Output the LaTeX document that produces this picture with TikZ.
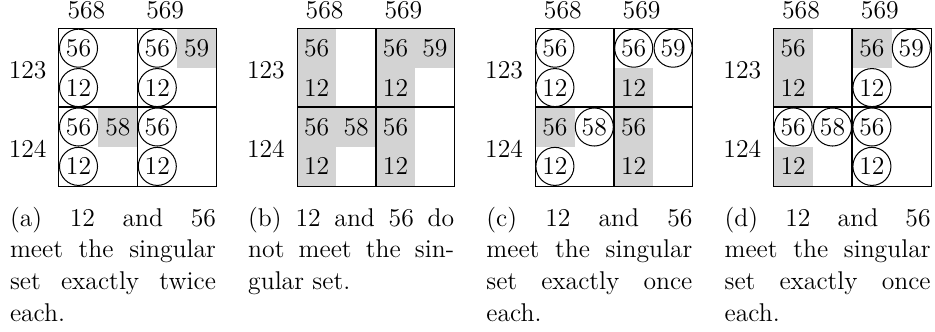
\documentclass[tikz,border=0pt]{standalone}
\definecolor{shadegray}{RGB}{211,211,211}
\tikzset{
  lab/.style={anchor=base, inner sep=0pt},
  num/.style={inner sep=0pt},
  ring/.style={circle, draw, line width=0.45pt, inner sep=0pt, minimum size=16.9pt},
  shadebox/.style={fill=shadegray, draw=none},
  outerbox/.style={draw, line width=0.45pt},
  innerline/.style={line width=0.8pt},
  capnode/.style={anchor=base west, inner sep=0pt}
}
\newcommand{\capbox}[1]{\parbox[t]{91.5pt}{\fontsize{11.4}{14.04}\selectfont\setlength{\baselineskip}{14.04pt}#1}}
\newcommand{\jline}[1]{\makebox[\linewidth][s]{#1}}
\begin{document}
\begin{tikzpicture}[x=0.4442pt, y=-0.4442pt, font=\fontsize{11.4}{14.04}\selectfont]
\useasboundingbox (0,0) rectangle (935,331);

% ---------- panel (a) ----------
\begin{scope}[xshift=26.12pt, yshift=-12.66pt, x=17.5pt, y=-17.5pt]
  \fill[shadebox] (3,0) rectangle (4,1);
  \fill[shadebox] (1,2) rectangle (2,3);
  \draw[outerbox] (0,0) rectangle (4,4);
  \draw[innerline] (2,0) -- (2,4) (0,2) -- (4,2);
  \node[lab] (a568) at (0.7,-0.254) {568};
  \node[lab] (a569) at (2.7,-0.254) {569};
  \node[lab] (a123) at (-0.79,1.265) {123};
  \node[lab] (a124) at (-0.79,3.265) {124};
  \node[ring] (aA56) at (0.5,0.5) {56};
  \node[ring] (aA12) at (0.5,1.5) {12};
  \node[ring] (aB56) at (2.5,0.5) {56};
  \node[num]  (aB59) at (3.5,0.5) {59};
  \node[ring] (aB12) at (2.5,1.5) {12};
  \node[ring] (aC56) at (0.5,2.5) {56};
  \node[num]  (aC58) at (1.5,2.5) {58};
  \node[ring] (aC12) at (0.5,3.5) {12};
  \node[ring] (aD56) at (2.5,2.5) {56};
  \node[ring] (aD12) at (2.5,3.5) {12};
  \node[capnode] (capa) at (-1.25,5.02) {\capbox{\jline{(a) 12 and 56}\\\jline{meet the singular}\\\jline{set exactly twice}\\each.}};
\end{scope}

% ---------- panel (b) ----------
\begin{scope}[xshift=131.93pt, yshift=-12.66pt, x=17.5pt, y=-17.5pt]
  \fill[shadebox] (0,0) rectangle (1,4);
  \fill[shadebox] (1,2) rectangle (2,3);
  \fill[shadebox] (2,0) rectangle (3,4);
  \fill[shadebox] (3,0) rectangle (4,1);
  \draw[outerbox] (0,0) rectangle (4,4);
  \draw[innerline] (2,0) -- (2,4) (0,2) -- (4,2);
  \node[lab] (b568) at (0.7,-0.254) {568};
  \node[lab] (b569) at (2.7,-0.254) {569};
  \node[lab] (b123) at (-0.79,1.265) {123};
  \node[lab] (b124) at (-0.79,3.265) {124};
  \node[num] (bA56) at (0.5,0.5) {56};
  \node[num] (bA12) at (0.5,1.5) {12};
  \node[num] (bB56) at (2.5,0.5) {56};
  \node[num] (bB59) at (3.5,0.5) {59};
  \node[num] (bB12) at (2.5,1.5) {12};
  \node[num] (bC56) at (0.5,2.5) {56};
  \node[num] (bC58) at (1.5,2.5) {58};
  \node[num] (bC12) at (0.5,3.5) {12};
  \node[num] (bD56) at (2.5,2.5) {56};
  \node[num] (bD12) at (2.5,3.5) {12};
  \node[capnode] (capb) at (-1.25,5.02) {\capbox{\jline{(b) 12 and 56 do}\\\jline{not meet the sin-}\\gular set.}};
\end{scope}

% ---------- panel (c) ----------
\begin{scope}[xshift=237.74pt, yshift=-12.66pt, x=17.5pt, y=-17.5pt]
  \fill[shadebox] (2,1) rectangle (3,4);
  \fill[shadebox] (0,2) rectangle (1,3);
  \draw[outerbox] (0,0) rectangle (4,4);
  \draw[innerline] (2,0) -- (2,4) (0,2) -- (4,2);
  \node[lab] (c568) at (0.7,-0.254) {568};
  \node[lab] (c569) at (2.7,-0.254) {569};
  \node[lab] (c123) at (-0.79,1.265) {123};
  \node[lab] (c124) at (-0.79,3.265) {124};
  \node[ring] (cA56) at (0.5,0.5) {56};
  \node[ring] (cA12) at (0.5,1.5) {12};
  \node[ring] (cB56) at (2.5,0.5) {56};
  \node[ring] (cB59) at (3.5,0.5) {59};
  \node[num]  (cB12) at (2.5,1.5) {12};
  \node[num]  (cC56) at (0.5,2.5) {56};
  \node[ring] (cC58) at (1.5,2.5) {58};
  \node[ring] (cC12) at (0.5,3.5) {12};
  \node[num]  (cD56) at (2.5,2.5) {56};
  \node[num]  (cD12) at (2.5,3.5) {12};
  \node[capnode] (capc) at (-1.25,5.02) {\capbox{\jline{(c) 12 and 56}\\\jline{meet the singular}\\\jline{set exactly once}\\each.}};
\end{scope}

% ---------- panel (d) ----------
\begin{scope}[xshift=343.55pt, yshift=-12.66pt, x=17.5pt, y=-17.5pt]
  \fill[shadebox] (0,0) rectangle (1,2);
  \fill[shadebox] (2,0) rectangle (3,1);
  \fill[shadebox] (0,3) rectangle (1,4);
  \draw[outerbox] (0,0) rectangle (4,4);
  \draw[innerline] (2,0) -- (2,4) (0,2) -- (4,2);
  \node[lab] (d568) at (0.7,-0.254) {568};
  \node[lab] (d569) at (2.7,-0.254) {569};
  \node[lab] (d123) at (-0.79,1.265) {123};
  \node[lab] (d124) at (-0.79,3.265) {124};
  \node[num]  (dA56) at (0.5,0.5) {56};
  \node[num]  (dA12) at (0.5,1.5) {12};
  \node[num]  (dB56) at (2.5,0.5) {56};
  \node[ring] (dB59) at (3.5,0.5) {59};
  \node[ring] (dB12) at (2.5,1.5) {12};
  \node[ring] (dC56) at (0.5,2.5) {56};
  \node[ring] (dC58) at (1.5,2.5) {58};
  \node[num]  (dC12) at (0.5,3.5) {12};
  \node[ring] (dD56) at (2.5,2.5) {56};
  \node[ring] (dD12) at (2.5,3.5) {12};
  \node[capnode] (capd) at (-1.25,5.02) {\capbox{\jline{(d) 12 and 56}\\\jline{meet the singular}\\\jline{set exactly once}\\each.}};
\end{scope}
\end{tikzpicture}
\end{document}
